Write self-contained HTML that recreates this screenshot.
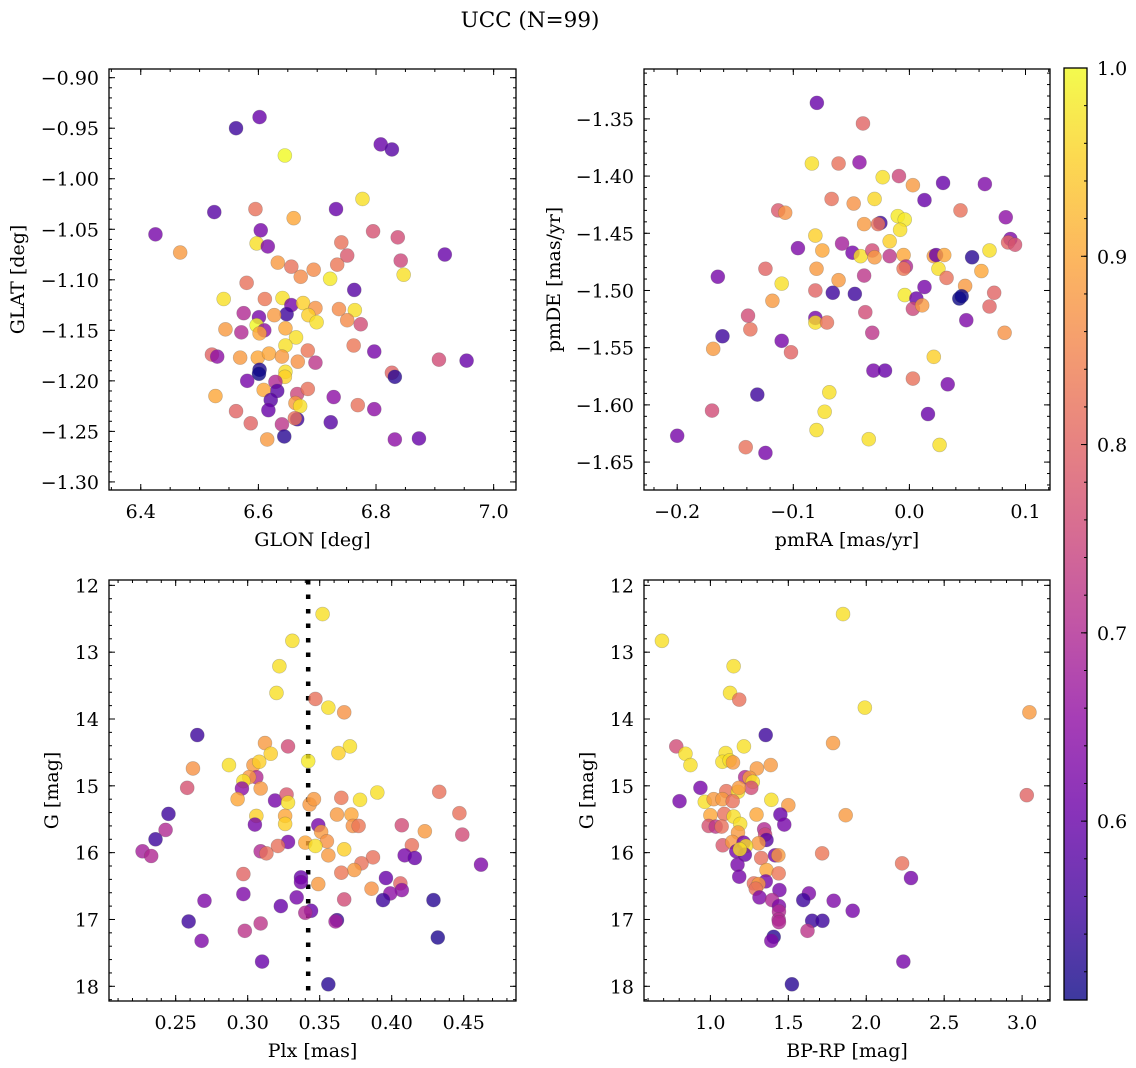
<!DOCTYPE html>
<html><head><meta charset="utf-8"><style>
html,body{margin:0;padding:0;background:#fff;}
svg{display:block;font-family:"DejaVu Serif","Liberation Serif",serif;}
</style></head><body>
<svg id="fig" width="1136" height="1068" viewBox="0 0 1136 1068" xmlns="http://www.w3.org/2000/svg">
<text x="530" y="27" text-anchor="middle" font-size="21.5">UCC (N=99)</text>
</svg>
<script>
const glon=[6.602,6.562,6.645,6.808,6.827,6.777,6.525,6.595,6.732,6.660,6.425,6.604,6.795,6.837,6.597,6.616,6.467,6.741,6.751,6.917,6.842,6.633,6.656,6.672,6.694,6.734,6.847,6.722,6.580,6.763,6.541,6.611,6.641,6.656,6.676,6.697,6.737,6.764,6.575,6.648,6.601,6.627,6.685,6.751,6.774,6.699,6.544,6.571,6.597,6.610,6.602,6.646,6.664,6.646,6.684,6.762,6.797,6.521,6.530,6.569,6.599,6.618,6.640,6.667,6.697,6.907,6.954,6.602,6.601,6.646,6.645,6.827,6.832,6.581,6.629,6.632,6.609,6.666,6.684,6.621,6.728,6.527,6.663,6.671,6.769,6.797,6.617,6.562,6.666,6.662,6.587,6.640,6.723,6.644,6.615,6.832,6.873];
const glat=[-0.939,-0.950,-0.977,-0.966,-0.971,-1.020,-1.033,-1.030,-1.030,-1.039,-1.055,-1.051,-1.052,-1.058,-1.064,-1.067,-1.073,-1.063,-1.076,-1.075,-1.081,-1.083,-1.087,-1.097,-1.090,-1.085,-1.095,-1.099,-1.103,-1.110,-1.119,-1.119,-1.118,-1.125,-1.123,-1.128,-1.129,-1.130,-1.133,-1.134,-1.137,-1.135,-1.135,-1.140,-1.144,-1.142,-1.149,-1.152,-1.145,-1.150,-1.153,-1.148,-1.157,-1.165,-1.170,-1.165,-1.171,-1.174,-1.176,-1.177,-1.177,-1.173,-1.176,-1.181,-1.182,-1.179,-1.180,-1.189,-1.193,-1.191,-1.196,-1.192,-1.196,-1.200,-1.201,-1.210,-1.209,-1.213,-1.208,-1.219,-1.216,-1.215,-1.222,-1.225,-1.224,-1.228,-1.229,-1.230,-1.238,-1.237,-1.242,-1.243,-1.241,-1.255,-1.258,-1.258,-1.257];
const prob1=[.6,.55,1,.6,.58,.97,.58,.82,.6,.9,.62,.62,.77,.76,.97,.63,.88,.82,.78,.6,.75,.88,.82,.86,.86,.83,.97,.98,.82,.58,.97,.83,.97,.62,.95,.87,.86,.97,.7,.55,.62,.88,.95,.86,.76,.97,.88,.7,1,.65,.9,.9,.97,.97,.83,.83,.62,.8,.65,.88,.9,.9,.88,.87,.72,.76,.6,.52,.5,.97,.95,.8,.53,.62,.7,.58,.9,.75,.82,.58,.65,.9,.88,.97,.82,.65,.6,.8,.55,.82,.8,.72,.58,.53,.88,.65,.6];

const pmra=[-0.0797,-0.040,-0.084,-0.061,-0.043,-0.023,-0.009,0.003,0.029,0.065,-0.067,-0.048,-0.030,0.013,0.044,-0.113,-0.107,-0.010,-0.004,0.083,-0.039,-0.025,-0.027,-0.008,-0.081,-0.017,0.087,0.085,0.091,-0.096,-0.075,-0.058,-0.049,-0.042,-0.032,-0.030,-0.017,-0.005,0.021,0.023,0.030,0.054,0.069,-0.165,-0.124,-0.080,-0.061,-0.039,-0.003,-0.005,0.025,0.032,0.062,-0.110,-0.081,-0.066,-0.047,-0.004,0.013,0.048,0.043,0.045,0.073,-0.118,0.006,0.003,0.011,0.069,-0.139,-0.081,-0.081,-0.071,-0.038,0.049,-0.137,-0.161,-0.110,-0.032,0.082,-0.169,-0.102,0.021,-0.031,-0.021,0.003,0.033,-0.131,-0.069,-0.073,-0.170,0.016,-0.080,-0.200,-0.035,-0.141,0.026,-0.124];
const pmde=[-1.336,-1.354,-1.389,-1.389,-1.388,-1.401,-1.400,-1.408,-1.406,-1.407,-1.420,-1.424,-1.420,-1.421,-1.430,-1.430,-1.432,-1.435,-1.438,-1.436,-1.442,-1.441,-1.442,-1.447,-1.452,-1.457,-1.455,-1.458,-1.460,-1.463,-1.465,-1.459,-1.467,-1.470,-1.465,-1.471,-1.470,-1.469,-1.470,-1.469,-1.469,-1.471,-1.465,-1.488,-1.481,-1.481,-1.491,-1.487,-1.479,-1.481,-1.481,-1.489,-1.483,-1.494,-1.500,-1.502,-1.503,-1.504,-1.497,-1.496,-1.507,-1.505,-1.502,-1.509,-1.507,-1.516,-1.513,-1.514,-1.522,-1.524,-1.528,-1.528,-1.519,-1.526,-1.534,-1.540,-1.544,-1.537,-1.537,-1.551,-1.554,-1.558,-1.570,-1.570,-1.577,-1.582,-1.591,-1.589,-1.606,-1.605,-1.608,-1.622,-1.627,-1.630,-1.637,-1.635,-1.642];
const prob2=[.6,.8,.97,.82,.65,.97,.75,.88,.6,.63,.82,.87,.96,.6,.82,.78,.87,.98,.98,.65,.88,.55,.82,.97,.95,.95,.63,.8,.77,.63,.9,.68,.62,.97,.76,.88,.72,.9,.88,.6,.9,.53,.97,.62,.8,.88,.88,.72,.7,.83,.97,.82,.9,.97,.8,.55,.55,.98,.62,.88,.5,.5,.8,.88,.6,.75,.88,.8,.76,.62,.97,.82,.76,.63,.82,.55,.62,.72,.87,.88,.8,.95,.62,.6,.82,.62,.55,.97,.97,.76,.6,.97,.62,.97,.82,.97,.62];

const plx=[0.352,0.331,0.322,0.320,0.347,0.356,0.367,0.265,0.328,0.312,0.316,0.371,0.363,0.342,0.262,0.287,0.304,0.308,0.306,0.301,0.297,0.296,0.309,0.258,0.293,0.319,0.327,0.328,0.343,0.346,0.365,0.378,0.390,0.433,0.245,0.306,0.326,0.362,0.372,0.447,0.243,0.305,0.326,0.349,0.373,0.377,0.407,0.423,0.449,0.236,0.351,0.355,0.328,0.321,0.340,0.347,0.367,0.414,0.227,0.233,0.309,0.313,0.356,0.387,0.409,0.416,0.462,0.379,0.374,0.365,0.297,0.337,0.337,0.396,0.349,0.406,0.386,0.407,0.399,0.297,0.334,0.367,0.394,0.429,0.270,0.323,0.344,0.340,0.362,0.361,0.259,0.309,0.298,0.268,0.432,0.310,0.356];
const gmag3=[12.43,12.83,13.21,13.61,13.70,13.83,13.90,14.24,14.41,14.36,14.52,14.41,14.51,14.63,14.74,14.69,14.69,14.64,14.87,14.87,14.93,15.04,15.04,15.03,15.20,15.22,15.13,15.25,15.28,15.20,15.18,15.21,15.10,15.09,15.42,15.45,15.45,15.43,15.43,15.41,15.66,15.58,15.57,15.59,15.60,15.60,15.59,15.68,15.73,15.80,15.69,15.83,15.84,15.90,15.85,15.90,15.95,15.89,15.98,16.05,15.98,16.01,16.04,16.07,16.04,16.08,16.18,16.16,16.26,16.30,16.32,16.37,16.44,16.38,16.47,16.46,16.54,16.56,16.61,16.62,16.67,16.70,16.71,16.71,16.72,16.80,16.87,16.90,17.01,17.03,17.03,17.06,17.17,17.32,17.27,17.63,17.97];
const prob3=[.97,.97,.97,.97,.82,.97,.87,.55,.76,.88,.95,.97,.95,.98,.87,.97,.88,.95,.7,.88,.97,.65,.88,.77,.9,.62,.78,.97,.88,.88,.83,.97,.97,.82,.55,.95,.9,.88,.9,.82,.7,.62,.95,.62,.87,.83,.76,.88,.76,.55,.88,.87,.62,.82,.9,.97,.95,.82,.68,.7,.7,.82,.88,.82,.62,.6,.63,.82,.88,.83,.8,.6,.62,.6,.88,.8,.87,.65,.65,.63,.62,.76,.55,.53,.63,.6,.6,.7,.55,.68,.55,.72,.72,.63,.52,.6,.53];
const plxRef=[0.342];

const bprp=[1.851,0.689,1.149,1.126,1.185,1.991,3.047,1.355,1.787,0.781,1.215,0.840,1.098,0.872,1.077,1.123,1.145,1.298,1.387,1.223,1.251,1.272,1.262,0.936,1.102,1.177,1.183,0.802,0.964,1.021,1.077,1.143,1.391,1.500,1.868,3.030,1.000,1.089,1.149,1.296,1.449,1.474,0.989,1.034,1.072,1.191,1.345,1.351,1.360,1.177,1.079,1.140,1.213,1.309,1.228,1.166,1.221,1.189,1.326,1.415,1.436,1.717,2.230,1.174,1.360,1.438,2.287,1.185,1.355,1.279,1.309,1.291,1.443,1.632,1.315,1.396,1.596,1.791,1.440,1.440,1.913,1.438,1.440,1.653,1.719,1.623,1.406,1.391,2.238,1.523];
const gmag4=[12.43,12.83,13.21,13.61,13.71,13.83,13.90,14.24,14.36,14.41,14.41,14.52,14.51,14.69,14.64,14.62,14.65,14.74,14.69,14.87,14.88,14.94,15.03,15.03,15.08,15.09,15.03,15.23,15.24,15.20,15.20,15.23,15.21,15.29,15.44,15.14,15.44,15.42,15.46,15.43,15.43,15.58,15.60,15.61,15.61,15.57,15.65,15.73,15.81,15.70,15.89,15.84,15.85,15.86,15.90,15.98,16.03,15.95,16.08,16.04,16.04,16.01,16.16,16.18,16.26,16.31,16.38,16.36,16.43,16.46,16.47,16.54,16.56,16.61,16.67,16.71,16.71,16.72,16.80,16.88,16.87,17.00,17.04,17.02,17.02,17.17,17.26,17.32,17.63,17.97];
const prob4=[.97,.97,.97,.97,.82,.97,.88,.55,.88,.76,.97,.97,.97,.97,.97,.97,.88,.88,.88,.7,.88,.97,.76,.62,.82,.97,.88,.62,.97,.88,.88,.82,.97,.88,.88,.8,.9,.82,.97,.9,.6,.62,.77,.72,.82,.97,.7,.75,.58,.88,.78,.88,.62,.88,.97,.62,.6,.97,.82,.62,.88,.83,.82,.62,.9,.83,.62,.62,.62,.82,.88,.82,.62,.63,.63,.7,.55,.63,.63,.7,.62,.7,.7,.55,.55,.72,.53,.63,.62,.53];

const cbTicks=[0.6,0.7,0.8,0.9,1.0];
const VMIN=0.505, VMAX=1.0;
const FS=19;

const NS="http://www.w3.org/2000/svg";
const svg=document.getElementById('fig');
function el(tag,attrs,parent){const e=document.createElementNS(NS,tag);for(const k in attrs)e.setAttribute(k,attrs[k]);(parent||svg).appendChild(e);return e;}
const plasma=[[13,8,135],[65,4,157],[106,0,168],[143,13,164],[177,42,144],[204,71,120],[225,100,98],[242,132,75],[252,166,54],[252,206,37],[240,249,33]];
function cmap(p){let t=Math.max(0,Math.min(1,(p-VMIN)/(VMAX-VMIN)))*10;let i=Math.min(9,Math.floor(t)),f=t-i;const a=plasma[i],b=plasma[i+1];return 'rgb('+[0,1,2].map(k=>Math.round(a[k]+(b[k]-a[k])*f)).join(',')+')';}
function fmt(v,d){const s=Math.abs(v).toFixed(d);return (v<-1e-9?'\u2212':'')+s;}

function panel(cfg){
  const [L,T,R,B]=cfg.box;
  const sx=v=>L+(v-cfg.xlim[0])/(cfg.xlim[1]-cfg.xlim[0])*(R-L);
  const sy=v=>B-(v-cfg.ylim[0])/(cfg.ylim[1]-cfg.ylim[0])*(B-T);
  const g=el('g',{});
  
  
  const clipId=cfg.name+'-clip';
  const cp=el('clipPath',{id:clipId},g);el('rect',{x:L,y:T,width:R-L,height:B-T},cp);
  const marks=el('g',{'clip-path':'url(#'+clipId+')'},g);
  if(cfg.vline){cfg.vline.forEach(v=>{const ln=el('line',{x1:sx(v),x2:sx(v),y1:T,y2:B,stroke:'#000','stroke-width':4.5,'stroke-dasharray':'4.5 10'},marks);
    
    });}
  for(let i=0;i<cfg.x.length;i++){
    const c=el('circle',{cx:sx(cfg.x[i]),cy:sy(cfg.y[i]),r:7,fill:cmap(cfg.p[i]),'fill-opacity':0.8,stroke:'#555','stroke-opacity':0.35,'stroke-width':0.6},marks);
    
    
  }
  const tk=el('g',{stroke:'#000','stroke-width':1},g);
  const eps=1e-9;
  function range(a,b,s){const out=[];const st=Math.ceil((a-eps)/s);for(let k=st;k*s<=b+eps;k++)out.push(k*s);return out;}
  const xa=Math.min(...cfg.xlim),xb=Math.max(...cfg.xlim),ya=Math.min(...cfg.ylim),yb=Math.max(...cfg.ylim);
  range(xa,xb,cfg.xminor).forEach(v=>{const x=sx(v);el('line',{x1:x,x2:x,y1:B,y2:B-3},tk);el('line',{x1:x,x2:x,y1:T,y2:T+3},tk);});
  range(ya,yb,cfg.yminor).forEach(v=>{const y=sy(v);el('line',{x1:L,x2:L+3,y1:y,y2:y},tk);el('line',{x1:R,x2:R-3,y1:y,y2:y},tk);});
  range(xa,xb,cfg.xmajor).forEach(v=>{const x=sx(v);el('line',{x1:x,x2:x,y1:B,y2:B-6},tk);el('line',{x1:x,x2:x,y1:T,y2:T+6},tk);
    const t=el('text',{x:x,y:B+28,'text-anchor':'middle','font-size':FS},g);t.textContent=fmt(v,cfg.xdec);
    
    });
  range(ya,yb,cfg.ymajor).forEach(v=>{const y=sy(v);el('line',{x1:L,x2:L+6,y1:y,y2:y},tk);el('line',{x1:R,x2:R-6,y1:y,y2:y},tk);
    const t=el('text',{x:L-10,y:y+7,'text-anchor':'end','font-size':FS},g);t.textContent=fmt(v,cfg.ydec);
    
    });
  el('rect',{x:L,y:T,width:R-L,height:B-T,fill:'none',stroke:'#000','stroke-width':1.3},g);
  const xl=el('text',{x:(L+R)/2,y:B+56,'text-anchor':'middle','font-size':FS},g);xl.textContent=cfg.xlabel;
  
  
  const yx=cfg.ylx,yc=(T+B)/2;
  const yl=el('text',{x:yx,y:yc,'text-anchor':'middle','font-size':FS,transform:'rotate(-90 '+yx+' '+yc+')'},g);yl.textContent=cfg.ylabel;
  
  
}

panel({name:'glon-glat-panel',box:[109,69,516,490],xlim:[6.346,7.038],ylim:[-1.308,-0.8914],xmajor:0.2,xminor:0.05,ymajor:0.05,yminor:0.01,xdec:1,ydec:2,x:glon,y:glat,p:prob1,xlabel:'GLON [deg]',ylabel:'GLAT [deg]',ylx:24});
panel({name:'pm-panel',box:[644,69,1050,490],xlim:[-0.2286,0.1211],ylim:[-1.6744,-1.3064],xmajor:0.1,xminor:0.02,ymajor:0.05,yminor:0.01,xdec:1,ydec:2,x:pmra,y:pmde,p:prob2,xlabel:'pmRA [mas/yr]',ylabel:'pmDE [mas/yr]',ylx:560});
panel({name:'plx-g-panel',box:[109,580,516,1001],xlim:[0.2037,0.4863],ylim:[18.22,11.92],xmajor:0.05,xminor:0.01,ymajor:1,yminor:0.2,xdec:2,ydec:0,x:plx,y:gmag3,p:prob3,xlabel:'Plx [mas]',ylabel:'G [mag]',ylx:58,vline:plxRef});
panel({name:'cmd-panel',box:[644,580,1050,1001],xlim:[0.574,3.179],ylim:[18.22,11.92],xmajor:0.5,xminor:0.1,ymajor:1,yminor:0.2,xdec:1,ydec:0,x:bprp,y:gmag4,p:prob4,xlabel:'BP-RP [mag]',ylabel:'G [mag]',ylx:593});

(function(){
  const L=1064,R=1087,T=68,B=1000;
  const g=el('g',{});
  
  
  const defs=el('defs',{},g);
  const lg=el('linearGradient',{id:'cbg',x1:0,y1:1,x2:0,y2:0},defs);
  plasma.forEach((c,i)=>el('stop',{offset:(i/10),'stop-color':'rgb('+c.join(',')+')'},lg));
  el('rect',{x:L,y:T,width:R-L,height:B-T,fill:'url(#cbg)','fill-opacity':0.8},g);
  const sy=v=>B-(v-VMIN)/(VMAX-VMIN)*(B-T);
  for(let k=26;k<=50;k++){const v=k*0.02;if(v<VMIN||v>VMAX+1e-9)continue;el('line',{x1:R,x2:R-3,y1:sy(v),y2:sy(v),stroke:'#000','stroke-width':1},g);}
  cbTicks.forEach(v=>{const y=sy(v);el('line',{x1:R,x2:R-6,y1:y,y2:y,stroke:'#000','stroke-width':1},g);
    const t=el('text',{x:R+10,y:y+7,'font-size':FS},g);t.textContent=v.toFixed(1);
    
    });
  el('rect',{x:L,y:T,width:R-L,height:B-T,fill:'none',stroke:'#000','stroke-width':1.3},g);
})();
</script>
</body></html>
